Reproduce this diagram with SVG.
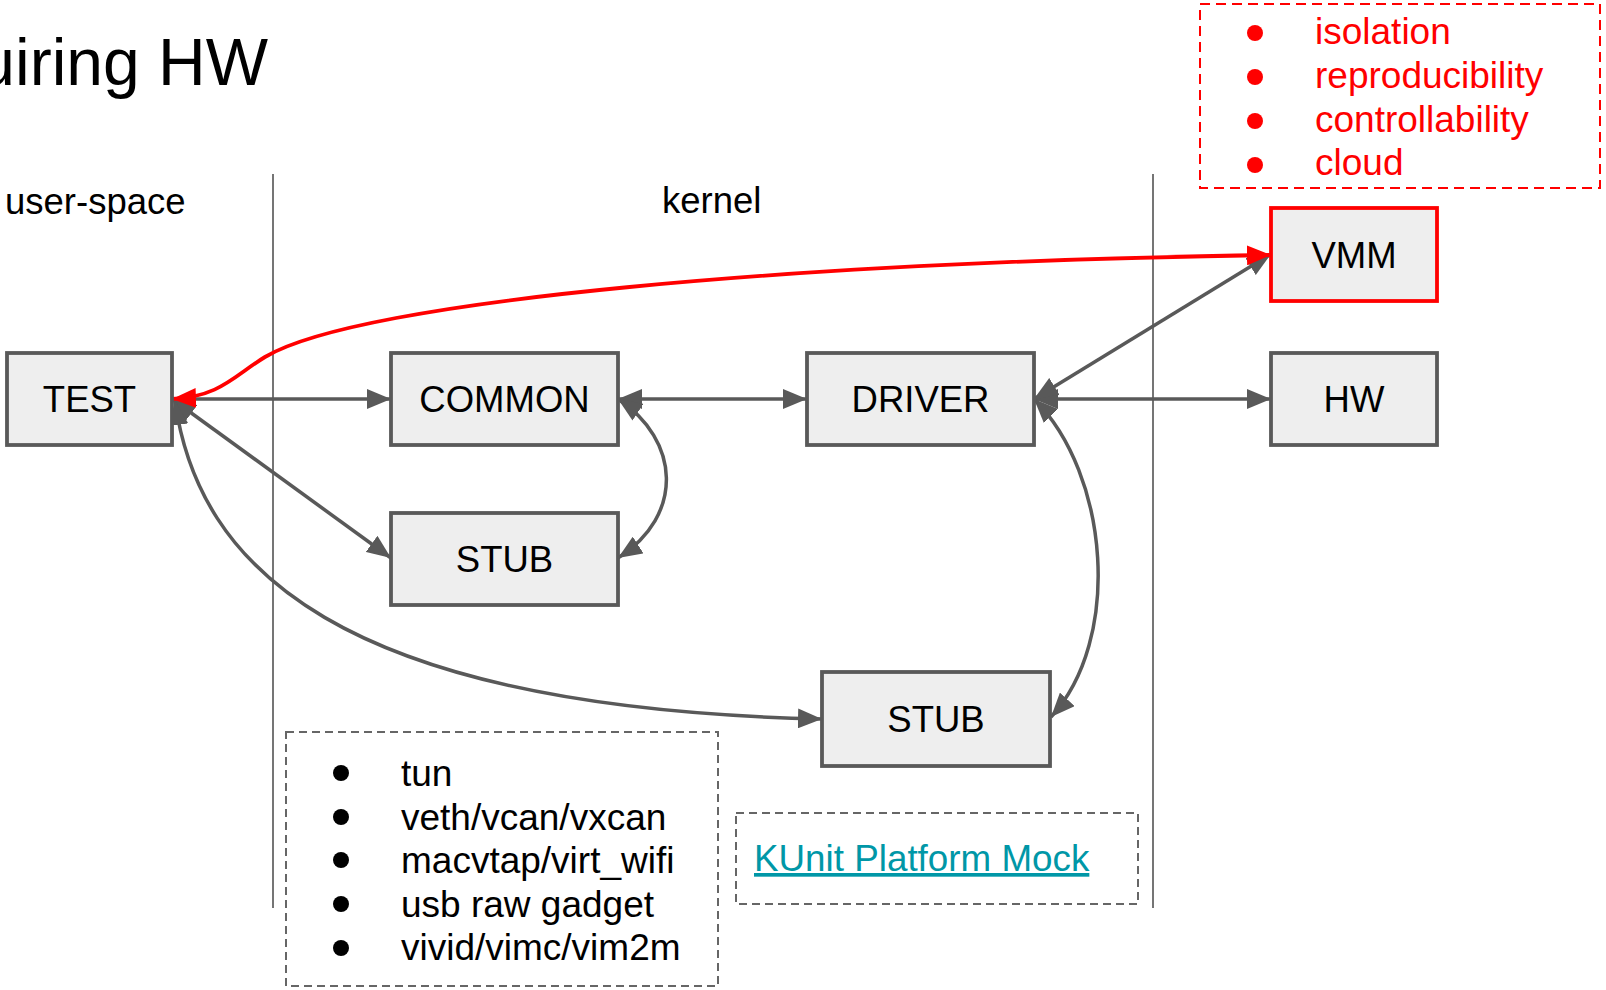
<svg xmlns="http://www.w3.org/2000/svg" width="1606" height="990" viewBox="0 0 1606 990">
<style>
text{font-family:"Liberation Sans",Arial,sans-serif;}
.box{fill:#eeeeee;stroke:#595959;stroke-width:3.8;}
.vmm{fill:#eeeeee;stroke:#ff0000;stroke-width:3.8;}
.lbl{font-size:36.5px;fill:#000;text-anchor:middle;}
.hdr{font-size:36.5px;fill:#000;}
.div{stroke:#757575;stroke-width:2;fill:none;}
.dash{fill:none;stroke:#666666;stroke-width:2;stroke-dasharray:8,5;}
.rdash{fill:none;stroke:#ff0000;stroke-width:2;stroke-dasharray:10,6;}
.e{fill:none;stroke:#595959;stroke-width:3.5;}
.r{fill:none;stroke:#ff0000;stroke-width:3.8;}
.lst{font-size:37px;fill:#000;}
.rlst{font-size:37px;fill:#ff0000;}
.link{font-size:36.8px;fill:#0097a7;text-decoration:underline;}
</style>
<defs>
<marker id="ag" markerUnits="userSpaceOnUse" markerWidth="26" markerHeight="20" refX="24" refY="10" orient="auto-start-reverse"><path d="M0,0 L24,10 L0,20 z" fill="#595959"/></marker>
<marker id="ar" markerUnits="userSpaceOnUse" markerWidth="26" markerHeight="20" refX="24" refY="10" orient="auto-start-reverse"><path d="M0,0 L24,10 L0,20 z" fill="#ff0000"/></marker>
</defs>
<rect width="1606" height="990" fill="#ffffff"/>
<text x="268" y="85" font-size="66" text-anchor="end" fill="#000">uiring HW</text>
<text class="hdr" x="5" y="214">user-space</text>
<text class="hdr" x="662" y="213">kernel</text>
<g id="dividers">
<line class="div" x1="273" y1="174" x2="273" y2="908"/>
<line class="div" x1="1153" y1="174" x2="1153" y2="908"/>
</g>
<g id="connectors">
<path class="e" d="M172,399 L391,399" marker-end="url(#ag)"/>
<path class="e" d="M172,399 L391,558" marker-start="url(#ag)" marker-end="url(#ag)"/>
<path class="e" d="M175,401 C198,565 335,708 822,719" marker-start="url(#ag)" marker-end="url(#ag)"/>
<path class="e" d="M618,399 L807,399" marker-start="url(#ag)" marker-end="url(#ag)"/>
<path class="e" d="M618,399 C680,440 685,515 618,558" marker-start="url(#ag)" marker-end="url(#ag)"/>
<path class="e" d="M1034,399 L1271,399" marker-start="url(#ag)" marker-end="url(#ag)"/>
<path class="e" d="M1034,399 L1271,254" marker-start="url(#ag)" marker-end="url(#ag)"/>
<path class="e" d="M1034,399 C1110,475 1122,640 1051,717" marker-start="url(#ag)" marker-end="url(#ag)"/>
<path class="r" d="M172,399 C220,397 235,375 265,357 C360,300 800,262 1271,255" marker-start="url(#ar)" marker-end="url(#ar)"/>
</g>
<g id="test"><rect class="box" x="7" y="353" width="165" height="92"/><text class="lbl" x="89.5" y="412">TEST</text></g>
<g id="common"><rect class="box" x="391" y="353" width="227" height="92"/><text class="lbl" x="504.5" y="412">COMMON</text></g>
<g id="driver"><rect class="box" x="807" y="353" width="227" height="92"/><text class="lbl" x="920.5" y="412">DRIVER</text></g>
<g id="vmm"><rect class="vmm" x="1271" y="208" width="166" height="93"/><text class="lbl" x="1354" y="268">VMM</text></g>
<g id="hw"><rect class="box" x="1271" y="353" width="166" height="92"/><text class="lbl" x="1354" y="412">HW</text></g>
<g id="stub1"><rect class="box" x="391" y="513" width="227" height="92"/><text class="lbl" x="504.5" y="572">STUB</text></g>
<g id="stub2"><rect class="box" x="822" y="672" width="228" height="94"/><text class="lbl" x="936" y="732">STUB</text></g>
<g id="benefits">
<rect class="rdash" x="1200" y="4" width="400" height="184"/>
<circle cx="1255" cy="33" r="8" fill="#ff0000"/><text class="rlst" x="1315" y="44">isolation</text>
<circle cx="1255" cy="77" r="8" fill="#ff0000"/><text class="rlst" x="1315" y="88">reproducibility</text>
<circle cx="1255" cy="121" r="8" fill="#ff0000"/><text class="rlst" x="1315" y="132">controllability</text>
<circle cx="1255" cy="165" r="8" fill="#ff0000"/><text class="rlst" x="1315" y="175">cloud</text>
</g>
<g id="virtual-devices">
<rect class="dash" x="286" y="732" width="432" height="254"/>
<circle cx="341" cy="773" r="8" fill="#000"/><text class="lst" x="401" y="786">tun</text>
<circle cx="341" cy="817" r="8" fill="#000"/><text class="lst" x="401" y="830">veth/vcan/vxcan</text>
<circle cx="341" cy="860" r="8" fill="#000"/><text class="lst" x="401" y="873">macvtap/virt_wifi</text>
<circle cx="341" cy="904" r="8" fill="#000"/><text class="lst" x="401" y="917">usb raw gadget</text>
<circle cx="341" cy="948" r="8" fill="#000"/><text class="lst" x="401" y="960">vivid/vimc/vim2m</text>
</g>
<g id="kunit">
<rect class="dash" x="736" y="813" width="402" height="91"/>
<text class="link" x="754" y="871">KUnit Platform Mock</text>
</g>
</svg>
